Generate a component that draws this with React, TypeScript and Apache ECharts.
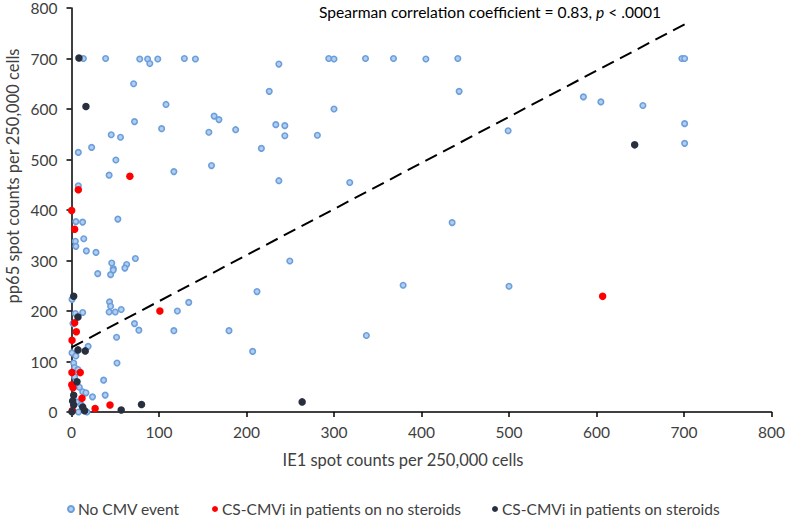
import React, { useEffect, useRef } from "react";
import * as echarts from "echarts";

// [IE1 spot counts, pp65 spot counts]
const noCmvEvent: number[][] = [
  [13.6, 700], [39, 700], [78, 699], [87, 699], [89.5, 690], [98.6, 699], [129, 700], [141.6, 699],
  [237, 689], [294, 700], [300, 699], [336, 700], [368, 700], [405, 699], [441.5, 700], [697.6, 700], [700.7, 700],
  [443, 635], [300, 600], [281, 548], [499, 557], [585, 624], [605, 614], [653, 607], [700.7, 571], [700.7, 532],
  [71, 650], [108, 609], [226, 635], [72, 575], [103, 561], [163, 586], [168.5, 579], [157, 554], [187.6, 559],
  [233.5, 569], [243.8, 567], [243.8, 547], [45.4, 549], [56, 544],
  [7.8, 514], [23, 524], [50.7, 499], [43, 469], [117, 476], [160, 488], [217, 522], [237, 458], [7.8, 448],
  [5, 377], [12.7, 376], [14, 343], [4.4, 338], [5, 328], [17, 319], [28, 316], [53, 382], [73, 304], [46, 295],
  [63, 292], [61, 285], [47.7, 284], [249.5, 299], [318, 454.5], [435, 375], [379, 251], [500, 249], [337, 151.5],
  [30, 274], [44.7, 272], [47.7, 281], [212, 238.5], [0.6, 223], [43.5, 218], [44.7, 209.5], [134, 217], [43, 198],
  [50, 198], [56.8, 203], [121, 200], [4.4, 195], [12.8, 197], [1.7, 175], [72, 175], [77, 162], [117, 161],
  [180, 161], [51.5, 148], [207, 120], [19, 130], [0.6, 117], [5, 111], [2.5, 97], [52, 97], [3.6, 88], [7.4, 84],
  [3.6, 70], [36.7, 63], [2.5, 53], [9, 49], [12.8, 40], [16.5, 38], [24, 30], [38.5, 33.5], [6, 20], [11, 14],
  [8, 0], [17.7, 0],
];

const csCmviNoSteroids: number[][] = [
  [66.7, 467], [7.8, 440], [0.2, 399], [3.6, 362], [101, 200], [3.6, 176.5], [5.5, 159], [0.6, 142],
  [0.5, 78], [10, 78], [0.3, 54], [1.7, 48], [12, 27], [27, 7], [44, 14], [607, 229], [1, 3],
];

const csCmviSteroids: number[][] = [
  [8.5, 701], [16.5, 605], [643.6, 529], [2.5, 229], [7.4, 188], [7.4, 123], [15.7, 121], [6.3, 60],
  [2.5, 33], [1.3, 22], [2.5, 14], [12.8, 10], [15, 2.6], [0.5, 0.6], [56.8, 4], [80, 15], [263.6, 20],
];

const trendLine: number[][] = [[0, 128], [701, 768]];

const seriesNames = ["No CMV event", "CS-CMVi in patients on no steroids", "CS-CMVi in patients on steroids"];
const axisMin = 0;
const axisMax = 800;
const axisInterval = 100;
const xTitle = "IE1 spot counts per 250,000 cells";
const yTitle = "pp65 spot counts per 250,000 cells";

const FONT = "Lato, 'Liberation Sans', sans-serif";
const TEXT = "#404040";

export default function App() {
  const ref = useRef<HTMLDivElement>(null);
  useEffect(() => {
    document.body.style.margin = "0";
    const chart = echarts.init(ref.current!, null, { renderer: "svg" });
    const axisCommon = {
      type: "value",
      min: axisMin,
      max: axisMax,
      interval: axisInterval,
      axisLine: { show: true, onZero: false, lineStyle: { color: "#000", width: 1.5 } },
      axisTick: { show: true, length: 5, lineStyle: { color: "#000", width: 1.5 } },
      splitLine: { show: false },
    };
    const legendCommon = {
      orient: "horizontal",
      top: 501,
      padding: 0,
      itemWidth: 6,
      itemHeight: 6,
      icon: "circle",
      textStyle: { color: TEXT, fontSize: 15.5, fontFamily: FONT, padding: [0, 0, 0, -1] },
    };
    chart.setOption({
      animation: false,
      grid: { left: 71.5, right: 15, top: 7, bottom: 107 },
      xAxis: {
        ...axisCommon,
        axisLabel: { color: TEXT, fontSize: 15.5, fontFamily: FONT, margin: 12 },
      },
      yAxis: {
        ...axisCommon,
        axisLabel: { color: TEXT, fontSize: 15.5, fontFamily: FONT, margin: 14 },
      },
      legend: [
        { ...legendCommon, left: 67, data: [seriesNames[0]] },
        { ...legendCommon, left: 212, data: [seriesNames[1]] },
        { ...legendCommon, left: 492, data: [seriesNames[2]] },
      ],
      graphic: [
        {
          type: "text",
          left: 319,
          top: 4,
          style: {
            text: "{a|Spearman correlation coefficient = 0.83, }{i|p}{a| < .0001}",
            rich: {
              a: { fontSize: 15.6, fontFamily: FONT, fill: "#000" },
              i: { fontSize: 15.6, fontFamily: FONT, fill: "#000", fontStyle: "italic" },
            },
          },
        },
        {
          type: "text",
          x: 403,
          y: 460,
          style: {
            text: xTitle,
            fontSize: 16.5,
            fontFamily: FONT,
            fill: TEXT,
            align: "center",
            verticalAlign: "middle",
          },
        },
        {
          type: "text",
          x: 13,
          y: 176,
          rotation: Math.PI / 2,
          style: {
            text: yTitle,
            fontSize: 16.5,
            fontFamily: FONT,
            fill: TEXT,
            align: "center",
            verticalAlign: "middle",
          },
        },
      ],
      series: [
        {
          name: "trend",
          type: "line",
          data: trendLine,
          symbol: "none",
          silent: true,
          lineStyle: { color: "#000", width: 2, type: [13, 7] },
          z: 1,
        },
        {
          name: seriesNames[0],
          type: "scatter",
          data: noCmvEvent,
          symbolSize: 5.5,
          itemStyle: { color: "#b3cdef", borderColor: "#6b9fdc", borderWidth: 1.6, opacity: 1 },
          z: 2,
        },
        {
          name: seriesNames[1],
          type: "scatter",
          data: csCmviNoSteroids,
          symbolSize: 7.5,
          itemStyle: { color: "#ff0000", opacity: 1 },
          z: 3,
        },
        {
          name: seriesNames[2],
          type: "scatter",
          data: csCmviSteroids,
          symbolSize: 7.5,
          itemStyle: { color: "#283040", opacity: 1 },
          z: 4,
        },
      ],
    });
    return () => chart.dispose();
  }, []);
  return <div ref={ref} style={{ width: 788, height: 519 }} />;
}
